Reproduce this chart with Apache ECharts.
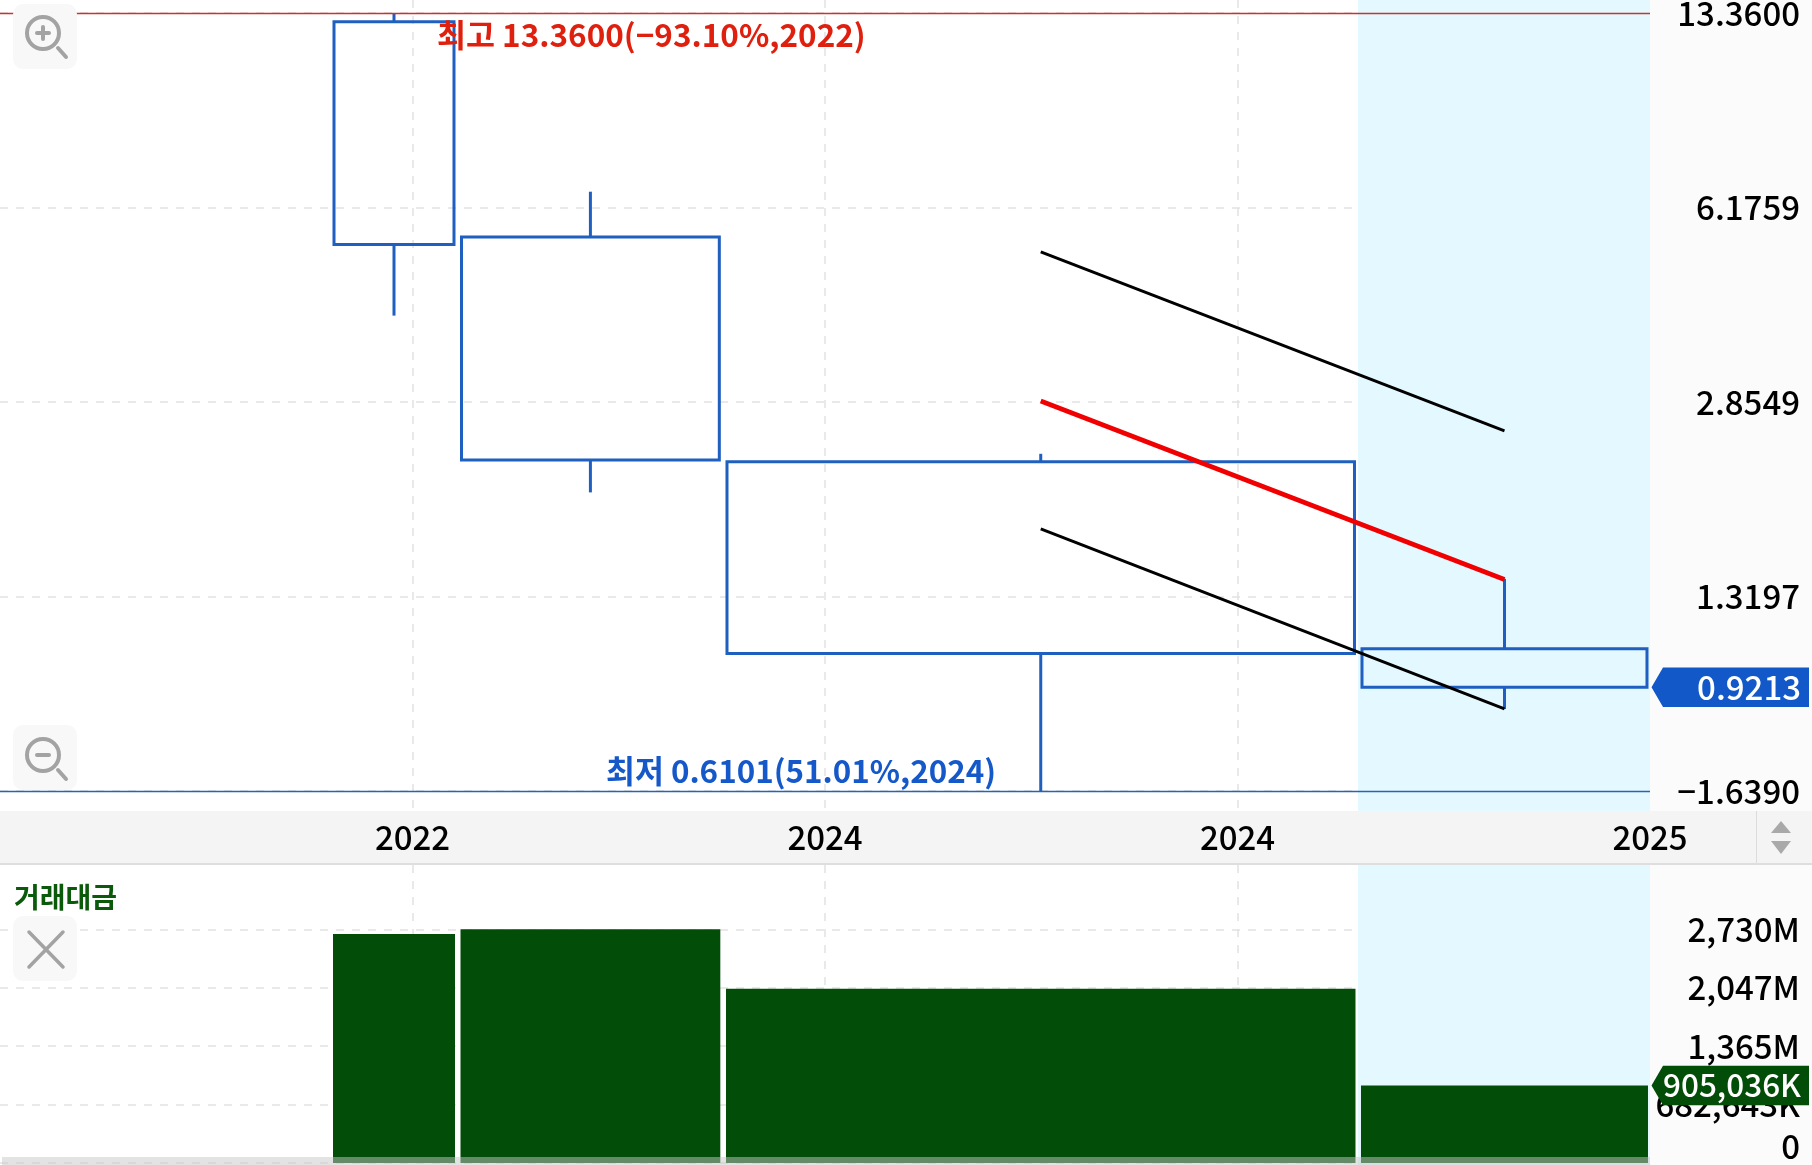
<!DOCTYPE html>
<html><head><meta charset="utf-8">
<style>html,body{margin:0;padding:0;background:#fbfbfb}#c{width:1812px;height:1165px}</style>
<script src="https://cdn.jsdelivr.net/npm/echarts@6/dist/echarts.min.js"></script>
</head><body><div id="c"></div>
<script>
// period extents in x-axis units (one unit = one time label)
const periodStart = [0.8097, 1.1188, 1.7624, 3.3018];
const periodEnd   = [1.1006, 1.7438, 3.2836, 3.9927];
const opens  = [12.91, 5.497, 2.253, 1.074];
const closes = [5.336, 2.270, 1.054, 0.9213];
const highs  = [13.36, 6.578, 2.326, 1.416];
const lows   = [4.024, 1.996, 0.6101, 0.8453];
const upperBand = [null, null, 5.18, 2.548];
const midBand   = [null, null, 2.868, 1.413];
const lowerBand = [null, null, 1.727, 0.846];
const turnoverM = [2675, 2730, 2036, 905.036];
const priceTicks = [13.36, 6.1759, 2.8549, 1.3197, 0.6101];
const priceTickLabels = ['13.3600', '6.1759', '2.8549', '1.3197', '\u22121.6390'];
const turnoverTicks = [0, 682.643, 1365, 2047, 2730];
const turnoverTickLabels = ['0', '682,643K', '1,365M', '2,047M', '2,730M'];
const timeTicks = [1, 2, 3, 4];
const timeTickLabels = ['2022', '2024', '2024', '2025'];
const highlightBand = [3.292, 4];
const highValue = 13.36, lowValue = 0.6101, lastPrice = 0.9213, lastTurnover = 905.036;
const highText = '최고 13.3600(\u221293.10%,2022)';
const lowText = '최저 0.6101(51.01%,2024)';
const turnoverTitle = '거래대금';
const lastPriceText = '0.9213', lastTurnoverText = '905,036K';

const FONT = '"Noto Sans CJK KR","Noto Sans",sans-serif';
const BLUE = '#1f5fbf', GREEN = '#024d08', GRID = '#e2e2e2', BAND = '#e3f8ff';
const chart = echarts.init(document.getElementById('c'), null, {renderer: 'canvas'});
const mids = periodStart.map((s, i) => (s + periodEnd[i]) / 2);
const dash = {color: GRID, type: [8, 8], width: 1.5};

function candleItem(params, api) {
  const i = params.dataIndex;
  const xl = api.coord([api.value(0), api.value(2)]);
  const xr = api.coord([api.value(1), api.value(3)]);
  const hi = api.coord([mids[i], api.value(4)]);
  const lo = api.coord([mids[i], api.value(5)]);
  const style = {stroke: BLUE, lineWidth: 3, fill: null};
  return {type: 'group', children: [
    {type: 'line', shape: {x1: hi[0], y1: hi[1], x2: hi[0], y2: xl[1]}, style},
    {type: 'line', shape: {x1: lo[0], y1: xr[1], x2: lo[0], y2: lo[1]}, style},
    {type: 'rect', shape: {x: xl[0], y: xl[1], width: xr[0] - xl[0], height: xr[1] - xl[1]}, style}
  ]};
}
function barItem(params, api) {
  const a = api.coord([api.value(0), api.value(2)]);
  const b = api.coord([api.value(1), 0]);
  return {type: 'rect', shape: {x: a[0] - 1, y: a[1], width: b[0] - a[0] + 2, height: b[1] - a[1]},
          style: {fill: GREEN}};
}
function tagItem(color, text, fontSize) {
  return function (params, api) {
    const y = api.coord([4, api.value(0)])[1];
    const x0 = 1651.5, x1 = 1663, x2 = 1809, h = 19.7;
    return {type: 'group', children: [
      {type: 'polygon', shape: {points: [[x0, y], [x1, y - h], [x2, y - h], [x2, y + h], [x1, y + h]]}, style: {fill: color}},
      {type: 'text', style: {x: 1801, y: y, text, fill: '#fff', font: '500 ' + fontSize + 'px ' + FONT, align: 'right', verticalAlign: 'middle'}}
    ]};
  };
}
function iconBox(y) { return {type: 'rect', z: 50, shape: {x: 13, y, width: 64, height: 65, r: 10}, style: {fill: '#f8f8f8'}}; }
function line(x1, y1, x2, y2, c, w) { return {type: 'line', z: 51, shape: {x1, y1, x2, y2}, style: {stroke: c, lineWidth: w, lineCap: 'round'}}; }
function circle(cx, cy) { return {type: 'circle', z: 51, shape: {cx, cy, r: 16}, style: {stroke: '#a3a3a3', lineWidth: 4, fill: 'none'}}; }

const option = {
  animation: false,
  textStyle: {fontFamily: FONT},
  grid: [
    {left: 0, top: 0, width: 1650, height: 811, show: true, backgroundColor: '#fff', borderWidth: 0, outerBoundsMode: 'none'},
    {left: 0, top: 865, width: 1650, height: 300, show: true, backgroundColor: '#fff', borderWidth: 0, outerBoundsMode: 'none'}
  ],
  xAxis: [
    {type: 'value', gridIndex: 0, min: 0, max: 4, interval: 1,
     axisLine: {show: false}, axisTick: {show: false},
     splitLine: {show: true, showMinLine: false, showMaxLine: false, lineStyle: dash},
     axisLabel: {show: true, margin: 8, fontSize: 33, fontWeight: 500, color: '#000', lineHeight: 36,
       showMinLabel: false, showMaxLabel: true, hideOverlap: false,
       formatter: v => { const i = timeTicks.indexOf(v); return i < 0 ? '' : timeTickLabels[i]; }}},
    {type: 'value', gridIndex: 1, min: 0, max: 4, interval: 1,
     axisLine: {show: false}, axisTick: {show: false}, axisLabel: {show: false},
     splitLine: {show: true, showMinLine: false, showMaxLine: false, lineStyle: dash}}
  ],
  yAxis: [
    {type: 'log', gridIndex: 0, position: 'right', logBase: 10, min: 0.5641, max: 14.07,
     axisLine: {show: false},
     axisTick: {show: false, customValues: priceTicks},
     splitLine: {show: true, lineStyle: dash},
     axisLabel: {show: true, customValues: priceTicks, margin: 150, align: 'right', fontSize: 33, fontWeight: 500, color: '#000',
       formatter: v => { const i = priceTicks.findIndex(t => Math.abs(t - v) < 1e-6); return i < 0 ? '' : priceTickLabels[i]; }}},
    {type: 'value', gridIndex: 1, position: 'right', min: -23.4, max: 3481,
     axisLine: {show: false},
     axisTick: {show: false, customValues: turnoverTicks},
     splitLine: {show: true, lineStyle: dash},
     axisLabel: {show: true, customValues: turnoverTicks, margin: 150, align: 'right', fontSize: 33, fontWeight: 500, color: '#000',
       verticalAlignMinLabel: 'bottom',
       formatter: v => { const i = turnoverTicks.findIndex(t => Math.abs(t - v) < 1e-6); return i < 0 ? '' : turnoverTickLabels[i]; }}}
  ],
  series: [
    {type: 'custom', name: '가격', xAxisIndex: 0, yAxisIndex: 0, z: 3,
     renderItem: candleItem, clip: false,
     encode: {x: [0, 1], y: [2, 3, 4, 5]},
     data: periodStart.map((s, i) => [s, periodEnd[i], opens[i], closes[i], highs[i], lows[i]]),
     markArea: {silent: true, itemStyle: {color: BAND, opacity: 1}, z: 0, data: [[{xAxis: highlightBand[0]}, {xAxis: highlightBand[1]}]]},
     markLine: {silent: true, symbol: 'none', label: {show: false},
       data: [
         {yAxis: highValue, lineStyle: {color: '#c8342c', width: 1.3, type: 'solid'}},
         {yAxis: lowValue, lineStyle: {color: '#2b62b8', width: 1.3, type: 'solid'}}
       ]}},
    {type: 'line', name: '상단', xAxisIndex: 0, yAxisIndex: 0, z: 4, symbol: 'none',
     lineStyle: {color: '#000', width: 3}, data: mids.map((m, i) => [m, upperBand[i]]).filter(d => d[1] !== null)},
    {type: 'line', name: '중앙', xAxisIndex: 0, yAxisIndex: 0, z: 4, symbol: 'none',
     lineStyle: {color: '#f00000', width: 4.6}, data: mids.map((m, i) => [m, midBand[i]]).filter(d => d[1] !== null)},
    {type: 'line', name: '하단', xAxisIndex: 0, yAxisIndex: 0, z: 4, symbol: 'none',
     lineStyle: {color: '#000', width: 3}, data: mids.map((m, i) => [m, lowerBand[i]]).filter(d => d[1] !== null)},
    {type: 'custom', name: '거래대금', xAxisIndex: 1, yAxisIndex: 1, z: 3, renderItem: barItem,
     encode: {x: [0, 1], y: 2},
     data: periodStart.map((s, i) => [s, periodEnd[i], turnoverM[i]]),
     markArea: {silent: true, itemStyle: {color: BAND, opacity: 1}, z: 0, data: [[{xAxis: highlightBand[0]}, {xAxis: highlightBand[1]}]]}},
    {type: 'custom', xAxisIndex: 0, yAxisIndex: 0, z: 20, clip: false, renderItem: tagItem('#1358c8', lastPriceText, 33), data: [[lastPrice]], encode: {y: 0}},
    {type: 'custom', xAxisIndex: 1, yAxisIndex: 1, z: 20, clip: false, renderItem: tagItem(GREEN, lastTurnoverText, 31.5), data: [[lastTurnover]], encode: {y: 0}}
  ],
  graphic: [
    {type: 'rect', z: -1, shape: {x: 0, y: 811, width: 1812, height: 52}, style: {fill: '#f4f4f4'}},
    {type: 'rect', z: 40, shape: {x: 0, y: 863, width: 1812, height: 2}, style: {fill: '#dedede'}},
    {type: 'rect', z: 40, shape: {x: 1756, y: 811, width: 1, height: 52}, style: {fill: '#dcdcdc'}},
    {type: 'polygon', z: 40, shape: {points: [[1781, 821], [1791, 833], [1771, 833]]}, style: {fill: '#a9a9a9'}},
    {type: 'polygon', z: 40, shape: {points: [[1771, 841], [1791, 841], [1781, 854]]}, style: {fill: '#a9a9a9'}},
    {type: 'rect', z: 40, shape: {x: 2, y: 1157, width: 1648, height: 8}, style: {fill: 'rgba(200,200,200,0.5)'}},
    iconBox(4), circle(43, 33), line(37, 33, 49, 33, '#a3a3a3', 4), line(43, 27, 43, 39, '#a3a3a3', 4), line(58, 48, 66, 57, '#a3a3a3', 4),
    iconBox(725), circle(43, 755), line(37, 755, 49, 755, '#a3a3a3', 4), line(58, 770, 66, 779, '#a3a3a3', 4),
    iconBox(916), line(29, 932, 63, 967, '#a3a3a3', 3.5), line(63, 932, 29, 967, '#a3a3a3', 3.5),
    {type: 'text', z: 45, style: {x: 437, y: 35, text: highText, fill: '#e0200f', font: '700 31.5px ' + FONT, verticalAlign: 'middle'}},
    {type: 'text', z: 45, style: {x: 606, y: 771, text: lowText, fill: '#1558c9', font: '700 31.4px ' + FONT, verticalAlign: 'middle'}},
    {type: 'text', z: 45, style: {x: 14, y: 897, text: turnoverTitle, fill: '#0b5a0b', font: '700 28px ' + FONT, verticalAlign: 'middle'}}
  ]
};
chart.setOption(option);
</script></body></html>
